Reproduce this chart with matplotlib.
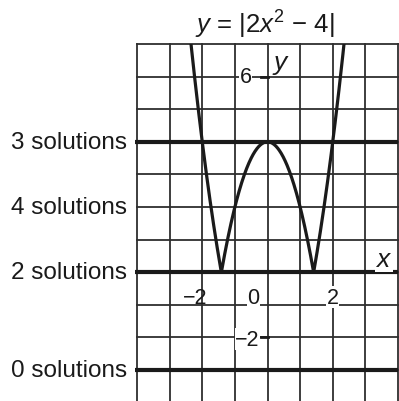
import numpy as np
import matplotlib
matplotlib.use("Agg")
import matplotlib.pyplot as plt

# ── Fonts ─────────────────────────────────────────────────────
plt.rcParams["font.family"] = ["Liberation Sans", "DejaVu Sans"]
plt.rcParams["mathtext.fontset"] = "custom"
plt.rcParams["mathtext.rm"] = "Liberation Sans"
plt.rcParams["mathtext.it"] = "Liberation Sans:italic"

# ── Data ──────────────────────────────────────────────────────
x_range = (-4, 4)
y_range = (-3.95, 7)
level_values = [4, 2, 0, -3]
level_labels = ["3 solutions", "4 solutions", "2 solutions", "0 solutions"]
thick_levels = [4, 0, -3]
y_tick_vals = [6, -2]

INK = "#1a1a1a"
GRID = "#2e2e2e"

fig = plt.figure(figsize=(3.99, 4.02), dpi=100)
ax = fig.add_axes([137 / 399, 0, 261 / 399, 357 / 402])
ax.set_xlim(*x_range)
ax.set_ylim(*y_range)
ax.axis("off")

# ── Grid ──────────────────────────────────────────────────────
for gx in range(x_range[0], x_range[1] + 1):
    ax.axvline(gx, color=GRID, lw=1.3, zorder=1, clip_on=False)
for gy in range(int(np.ceil(y_range[0])), int(y_range[1]) + 1):
    ax.axhline(gy, color=GRID, lw=1.3, zorder=1, clip_on=False)

# horizontal test lines
for lv in thick_levels:
    ax.plot([x_range[0] - 0.06, x_range[1]], [lv, lv], color=INK, lw=3,
            zorder=2, clip_on=False, solid_capstyle="butt")

# ── Curve y = |2x^2 - 4| ──────────────────────────────────────
xs = np.linspace(-4, 4, 801)
ax.plot(xs, np.abs(2 * xs**2 - 4), color=INK, lw=2.3, zorder=3)

# ── Labels ────────────────────────────────────────────────────
for val, lab in zip(level_values, level_labels):
    ax.text(x_range[0] - 0.31, val, lab, ha="right", va="center",
            fontsize=17.5, color=INK, clip_on=False)

# x tick labels
box = dict(fc="white", ec="none", pad=0.3)
ax.text(-1.85, -0.77, "\u22122", ha="right", va="center", fontsize=15.5,
        color=INK, zorder=4)
ax.text(-0.43, -0.77, "0", ha="center", va="center", fontsize=15.5,
        color=INK, zorder=4, bbox=box)
ax.text(2.0, -0.77, "2", ha="center", va="center", fontsize=15.5,
        color=INK, zorder=4, bbox=box)

# y tick labels with small dashes on the axis
for yt in y_tick_vals:
    ax.plot([-0.2, 0], [yt, yt], color=INK, lw=2, zorder=4)
ax.text(-0.67, 6, "6", ha="center", va="center", fontsize=15.5,
        color=INK, zorder=4, bbox=box)
ax.text(-0.25, -2.05, "\u22122", ha="right", va="center", fontsize=15.5,
        color=INK, zorder=4, bbox=dict(fc="white", ec="none", pad=0.1))

# axis names
ax.text(0.4, 6.4, "$y$", ha="center", va="center", fontsize=19, color=INK,
        zorder=4)
ax.text(3.56, 0.4, "$x$", ha="center", va="center", fontsize=19, color=INK,
        zorder=4, bbox=box)

fig.text(265 / 399, 1 - 25 / 402, "$y$ = |2$x^2$ \u2212 4|",
         ha="center", va="center", fontsize=18.5, color=INK)

fig.savefig("out.png", dpi=100, facecolor="white")
